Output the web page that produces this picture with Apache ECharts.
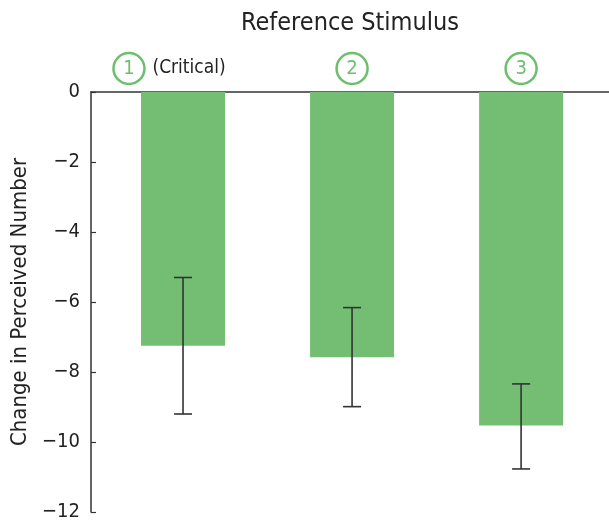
<!DOCTYPE html>
<html><head><meta charset="utf-8">
<script src="https://cdn.jsdelivr.net/npm/echarts@6/dist/echarts.min.js"></script>
<style>html,body{margin:0;padding:0;background:#fff}#c{width:609px;height:522px}</style>
</head><body><div id="c"></div>
<script>
const categories = ['1', '2', '3'];
const categoryNotes = ['(Critical)', '', ''];
const positions = [1, 2, 3];
const means = [-7.25, -7.58, -9.53];
const errLow = [-9.2, -8.99, -10.77];
const errHigh = [-5.3, -6.16, -8.34];
const yTicks = [0, -2, -4, -6, -8, -10, -12];

const FONT = '"Liberation Sans Narrow", "DejaVu Sans Condensed", sans-serif';
const GREEN = '#74BE74';

const chart = echarts.init(document.getElementById('c'), null, {renderer: 'canvas'});
chart.setOption({
  animation: false,
  grid: {left: 91, right: 0, top: 92, bottom: 10, containLabel: false, outerBoundsMode: 'none'},
  xAxis: {
    type: 'value', position: 'top', min: 0.4556, max: 3.52,
    splitLine: {show: false},
    axisLine: {show: true, onZero: false, lineStyle: {color: '#333', width: 1.5}},
    axisTick: {show: false},
    name: 'Reference Stimulus', nameLocation: 'middle', nameGap: 56,
    nameTextStyle: {fontFamily: FONT, fontSize: 25, color: '#222'},
    axisLabel: {
      show: true, customValues: positions, margin: 8,
      formatter: function (v) {
        const i = positions.indexOf(v);
        if (i < 0) return '';
        if (categoryNotes[i]) return '{c|' + categories[i] + '}{t|' + categoryNotes[i] + '}';
        return '{c|' + categories[i] + '}';
      },
      rich: {
        c: {width: 31, height: 31, align: 'center', borderRadius: 18, borderColor: '#6DBE6D', borderWidth: 2.5,
            color: '#6DBE6D', fontFamily: FONT, fontSize: 20, lineHeight: 31},
        t: {color: '#222', fontFamily: FONT, fontSize: 19, padding: [0, 27, 0, 8]}
      }
    }
  },
  yAxis: {
    type: 'value', min: -12, max: 0, interval: 2,
    splitLine: {show: false},
    axisLine: {show: true, lineStyle: {color: '#333', width: 1.5}},
    axisTick: {show: true, inside: true, length: 5, lineStyle: {color: '#333', width: 1.2}},
    axisLabel: {
      fontFamily: FONT, fontSize: 20, color: '#222', margin: 11,
      formatter: v => String(v).replace('-', '\u2212')
    },
    name: 'Change in Perceived Number', nameLocation: 'middle', nameGap: 59, nameRotate: 90,
    nameTextStyle: {fontFamily: FONT, fontSize: 22, color: '#222'}
  },
  series: [
    {
      type: 'bar', barWidth: 84,
      itemStyle: {color: GREEN},
      data: positions.map((p, i) => [p, means[i]])
    },
    {
      type: 'custom',
      data: positions.map((p, i) => [p, errLow[i], errHigh[i]]),
      renderItem: function (params, api) {
        const x = api.value(0);
        const lo = api.coord([x, api.value(1)]);
        const hi = api.coord([x, api.value(2)]);
        const hw = 9;
        const st = {stroke: '#333', lineWidth: 1.6};
        return {type: 'group', children: [
          {type: 'line', shape: {x1: lo[0], y1: lo[1], x2: hi[0], y2: hi[1]}, style: st},
          {type: 'line', shape: {x1: lo[0] - hw, y1: lo[1], x2: lo[0] + hw, y2: lo[1]}, style: st},
          {type: 'line', shape: {x1: hi[0] - hw, y1: hi[1], x2: hi[0] + hw, y2: hi[1]}, style: st}
        ]};
      },
      z: 5
    }
  ]
});
</script></body></html>
